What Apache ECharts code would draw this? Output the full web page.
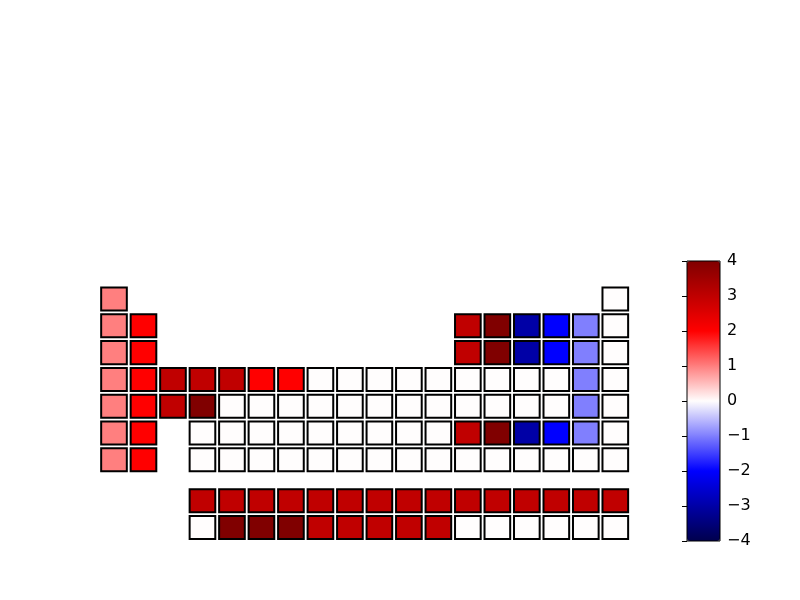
<!DOCTYPE html>
<html>
<head>
<meta charset="utf-8">
<script src="https://cdn.jsdelivr.net/npm/echarts@6/dist/echarts.min.js"></script>
<style>html,body{margin:0;padding:0;background:#fff;}#chart{width:800px;height:600px;}</style>
</head>
<body>
<div id="chart"></div>
<script>
// Groups (columns) and periods (rows)
const groups = ['1','2','3','4','5','6','7','8','9','10','11','12','13','14','15','16','17','18'];
const periods = ['1','2','3','4','5','6','7'];
const fBlockRows = ['La', 'Ac'];

// Values per period, null = no element drawn
const period1 = [1, null, null, null, null, null, null, null, null, null, null, null, null, null, null, null, null, 0];
const period2 = [1, 2, null, null, null, null, null, null, null, null, null, null, 3, 4, -3, -2, -1, 0];
const period3 = [1, 2, null, null, null, null, null, null, null, null, null, null, 3, 4, -3, -2, -1, 0];
const period4 = [1, 2, 3, 3, 3, 2, 2, 0, 0, 0, 0, 0, 0, 0, 0, 0, -1, 0];
const period5 = [1, 2, 3, 4, 0, 0, 0, 0, 0, 0, 0, 0, 0, 0, 0, 0, -1, 0];
const period6 = [1, 2, null, 0, 0, 0, 0, 0, 0, 0, 0, 0, 3, 4, -3, -2, -1, 0];
const period7 = [1, 2, null, 0, 0, 0, 0, 0, 0, 0, 0, 0, 0, 0, 0, 0, 0, 0];
const lanthanides = [null, null, null, 3, 3, 3, 3, 3, 3, 3, 3, 3, 3, 3, 3, 3, 3, 3];
const actinides = [null, null, null, 0, 4, 4, 4, 3, 3, 3, 3, 3, 0, 0, 0, 0, 0, 0];

// Colorbar ticks
const colorbarTicks = [-4, -3, -2, -1, 0, 1, 2, 3, 4];

const mainRows = [period1, period2, period3, period4, period5, period6, period7];
const fRows = [lanthanides, actinides];

function toData(rows) {
  const out = [];
  rows.forEach((row, r) => row.forEach((v, c) => { if (v !== null) out.push([c, r, v]); }));
  return out;
}

function renderCell(params, api) {
  const c = api.coord([api.value(0), api.value(1)]);
  const s = api.size([1, 1]);
  const w = s[0] * 0.87, h = s[1] * 0.86;
  return {
    type: 'rect',
    shape: { x: c[0] - w / 2, y: c[1] - h / 2, width: w, height: h },
    style: { fill: api.visual('color'), stroke: '#000', lineWidth: 2 }
  };
}

const hiddenCat = (data, gridIndex, inverse) => ({
  type: 'category', data: data, gridIndex: gridIndex, inverse: !!inverse,
  axisLine: { show: false }, axisTick: { show: false }, axisLabel: { show: false }, splitLine: { show: false }
});

const chart = echarts.init(document.getElementById('chart'), null, { renderer: 'canvas' });
chart.setOption({
  animation: false,
  backgroundColor: '#fff',
  textStyle: { fontFamily: 'DejaVu Sans' },
  grid: [
    { left: 99.25, top: 285.7, width: 530.8, height: 187.4 },
    { left: 99.25, top: 487.3, width: 530.8, height: 53.5 },
    { left: 687, top: 261, width: 33, height: 280, show: true, borderColor: '#000', borderWidth: 1, backgroundColor: 'transparent', z: 10, zlevel: 1 }
  ],
  xAxis: [
    hiddenCat(groups, 0),
    hiddenCat(groups, 1),
    { type: 'value', gridIndex: 2, show: false, min: 0, max: 1 }
  ],
  yAxis: [
    hiddenCat(periods, 0, true),
    hiddenCat(fBlockRows, 1, true),
    {
      type: 'value', gridIndex: 2, position: 'right', min: colorbarTicks[0], max: colorbarTicks[colorbarTicks.length - 1], interval: 1, z: 10, zlevel: 1,
      axisLine: { show: false },
      axisTick: { show: true, inside: true, length: 5, lineStyle: { color: '#000', width: 1 } },
      axisLabel: { color: '#000', fontSize: 16, fontFamily: 'DejaVu Sans', margin: 7,
        formatter: v => String(v).replace('-', '\u2212') },
      splitLine: { show: false }
    }
  ],
  visualMap: {
    type: 'continuous', min: -4, max: 4, dimension: 2, seriesIndex: [0, 1],
    calculable: false, hoverLink: false, padding: 0,
    left: 687, top: 261, itemWidth: 33, itemHeight: 280,
    inRange: { color: ['#00004d', '#0000ff', '#fffdfd', '#ff0000', '#800000'] }
  },
  series: [
    { type: 'custom', xAxisIndex: 0, yAxisIndex: 0, renderItem: renderCell, data: toData(mainRows) },
    { type: 'custom', xAxisIndex: 1, yAxisIndex: 1, renderItem: renderCell, data: toData(fRows) }
  ]
});
</script>
</body>
</html>
